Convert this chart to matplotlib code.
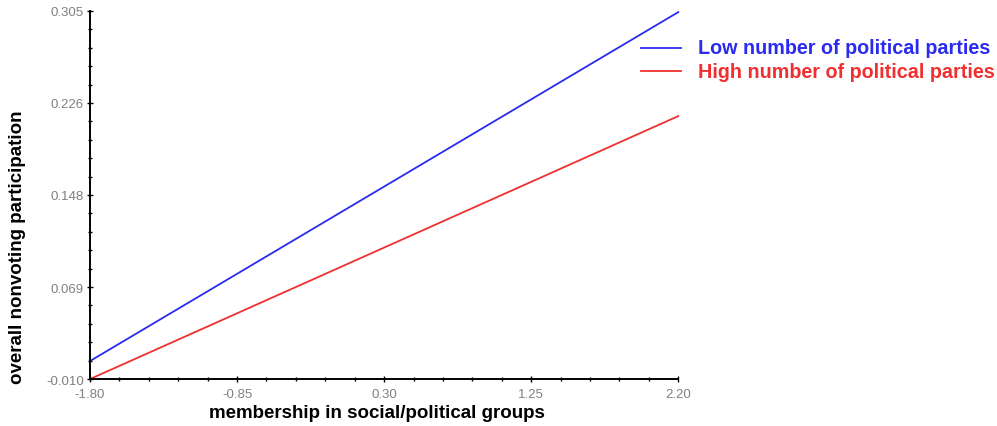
import numpy as np
import matplotlib.pyplot as plt
from matplotlib.ticker import AutoMinorLocator

# simple slopes: membership (x) vs predicted nonvoting participation
membership = [-1.80, 2.20]
low_parties = [0.0054, 0.304]
high_parties = [-0.010, 0.215]

x_ticks = [-1.80, -0.80, 0.20, 1.20, 2.20]
x_tick_labels = ["-1.80", "-0.85", "0.30", "1.25", "2.20"]
y_ticks = [-0.010, 0.06875, 0.1475, 0.22625, 0.305]
y_tick_labels = ["-0.010", "0.069", "0.148", "0.226", "0.305"]

plt.rcParams['font.family'] = ['Liberation Sans', 'DejaVu Sans']

fig = plt.figure(figsize=(9.97, 4.27), dpi=100)
ax = fig.add_axes([0.0903, 0.110, 0.590, 0.862])

ax.plot(membership, low_parties, color="#2b2bf0", lw=1.3, clip_on=False)
ax.plot(membership, high_parties, color="#f03030", lw=1.3, clip_on=False)

ax.set_xlim(-1.80, 2.20)
ax.set_ylim(-0.010, 0.305)
ax.set_xticks(x_ticks)
ax.set_xticklabels(x_tick_labels)
ax.set_yticks(y_ticks)
ax.set_yticklabels(y_tick_labels)
ax.xaxis.set_minor_locator(AutoMinorLocator(5))
ax.yaxis.set_minor_locator(AutoMinorLocator(5))

for s in ["top", "right"]:
    ax.spines[s].set_visible(False)
for s in ["left", "bottom"]:
    ax.spines[s].set_linewidth(1.4)
    ax.spines[s].set_color("black")

ax.tick_params(which="major", direction="inout", length=5, width=1,
               labelsize=9.5, labelcolor="#808080")
ax.tick_params(axis="y", which="major", pad=2)
ax.tick_params(axis="x", which="major", pad=4)
ax.tick_params(which="minor", direction="inout", length=3, width=1)

# axis titles placed in figure coordinates
fig.text(377 / 997, 1 - 414 / 427, "membership in social/political groups",
         fontsize=13.5, fontweight="bold", ha="center", va="center")
fig.text(18 / 997, 1 - 247 / 427, "overall nonvoting participation",
         fontsize=13.5, fontweight="bold", ha="center", va="center", rotation=90)

# legend drawn by hand to the right of the axes
fig.add_artist(plt.Line2D([0.643, 0.683], [1 - 49 / 427, 1 - 49 / 427],
                          color="#2b2bf0", lw=1.3))
fig.add_artist(plt.Line2D([0.643, 0.683], [1 - 72 / 427, 1 - 72 / 427],
                          color="#f03030", lw=1.3))
fig.text(0.700, 1 - 49 / 427, "Low number of political parties", color="#2b2bf0",
         fontsize=14.2, fontweight="bold", va="center")
fig.text(0.700, 1 - 72 / 427, "High number of political parties", color="#f03030",
         fontsize=14.2, fontweight="bold", va="center")

fig.savefig("out.png", dpi=100)
